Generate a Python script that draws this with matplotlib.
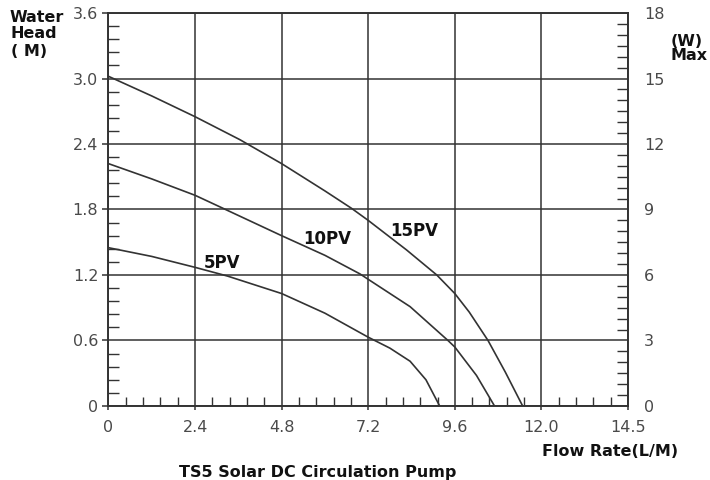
import matplotlib
matplotlib.use("Agg")
import matplotlib.pyplot as plt
from matplotlib.ticker import MultipleLocator, FixedLocator

# Data
flow_15 = [0, 1.2, 2.4, 3.64, 4.8, 6.0, 6.74, 7.2, 8.26, 9.1, 9.6, 10.0, 10.52, 11.0, 11.48]
head_15 = [3.02, 2.84, 2.65, 2.44, 2.22, 1.97, 1.81, 1.70, 1.43, 1.20, 1.03, 0.86, 0.60, 0.31, 0.0]

flow_10 = [0, 1.2, 2.4, 3.18, 4.8, 6.0, 6.97, 7.2, 8.36, 9.41, 9.6, 10.2, 10.7]
head_10 = [2.22, 2.08, 1.93, 1.81, 1.56, 1.38, 1.21, 1.16, 0.91, 0.60, 0.54, 0.28, 0.0]

flow_5 = [0, 1.2, 2.4, 3.3, 4.8, 6.0, 7.2, 7.8, 8.36, 8.8, 9.18]
head_5 = [1.45, 1.37, 1.27, 1.19, 1.03, 0.85, 0.63, 0.53, 0.41, 0.24, 0.0]

curve_labels = ["15PV", "10PV", "5PV"]
label_pos = [(7.80, 1.60), (5.39, 1.53), (2.65, 1.31)]

x_ticks = [0, 2.4, 4.8, 7.2, 9.6, 12.0, 14.4]
x_ticklabels = ["0", "2.4", "4.8", "7.2", "9.6", "12.0", "14.5"]
y_ticks = [0, 0.6, 1.2, 1.8, 2.4, 3.0, 3.6]
y_ticklabels = ["0", "0.6", "1.2", "1.8", "2.4", "3.0", "3.6"]
w_ticks = [0, 3, 6, 9, 12, 15, 18]
w_ticklabels = ["0", "3", "6", "9", "12", "15", "18"]

dark = "#333333"
tick_col = "#4a4a4a"

fig = plt.figure(figsize=(7.1, 4.8), dpi=100)
ax = fig.add_axes([0.1528, 0.1542, 0.8845 - 0.1528, 0.9729 - 0.1542])
ax.set_xlim(0, 14.4)
ax.set_ylim(0, 3.6)

for sp in ax.spines.values():
    sp.set_color(dark)
    sp.set_linewidth(1.2)

# grid
ax.xaxis.set_major_locator(FixedLocator(x_ticks))
ax.set_xticklabels(x_ticklabels)
ax.yaxis.set_major_locator(FixedLocator(y_ticks))
ax.set_yticklabels(y_ticklabels)
ax.xaxis.set_minor_locator(MultipleLocator(0.48))
ax.yaxis.set_minor_locator(MultipleLocator(0.12))
ax.grid(True, which="major", color=dark, linewidth=1.1)

ax.tick_params(axis="x", which="major", direction="out", length=3, width=1.1,
               color=dark, pad=7, labelsize=11.5, labelcolor=tick_col)
ax.tick_params(axis="x", which="minor", direction="in", length=6.5, width=1.0,
               color=dark, top=False)
ax.tick_params(axis="y", which="major", direction="out", length=4.3, width=1.1,
               color=dark, pad=3, labelsize=11.5, labelcolor=tick_col, right=False)
ax.tick_params(axis="y", which="minor", direction="in", length=8, width=1.0,
               color=dark, right=False)

# curves
for fx, hy in [(flow_15, head_15), (flow_10, head_10), (flow_5, head_5)]:
    ax.plot(fx, hy, color=dark, linewidth=1.2, solid_joinstyle="round", zorder=3)

for lab, (lx, ly) in zip(curve_labels, label_pos):
    ax.text(lx, ly, lab, fontsize=12, fontweight="bold", family="DejaVu Sans",
            color="#111111", ha="left", va="center")

# right axis
ax2 = ax.twinx()
ax2.set_ylim(0, 18)
ax2.yaxis.set_major_locator(FixedLocator(w_ticks))
ax2.set_yticklabels(w_ticklabels)
ax2.yaxis.set_minor_locator(MultipleLocator(0.5))
ax2.tick_params(axis="y", which="major", length=0, pad=11.5, labelsize=11.5,
                labelcolor=tick_col)
ax2.tick_params(axis="y", which="minor", direction="in", length=8, width=1.0,
                color=dark)
for sp in ax2.spines.values():
    sp.set_color(dark)
    sp.set_linewidth(1.2)

# annotations
bold = dict(fontweight="bold", family="DejaVu Sans", color="#111111")
fig.text(10 / 710, 1 - 17 / 480, "Water", fontsize=11.5, ha="left", va="center", **bold)
fig.text(10 / 710, 1 - 34 / 480, "Head", fontsize=11.5, ha="left", va="center", **bold)
fig.text(11 / 710, 1 - 51 / 480, "( M)", fontsize=11.5, ha="left", va="center", **bold)
fig.text(671 / 710, 1 - 41 / 480, "(W)", fontsize=11.5, ha="left", va="center", **bold)
fig.text(671 / 710, 1 - 56 / 480, "Max", fontsize=11.5, ha="left", va="center", **bold)
fig.text(610.5 / 710, 1 - 451 / 480, "Flow Rate(L/M)", fontsize=11.5, ha="center",
         va="center", **bold)
fig.text(317.5 / 710, 1 - 472 / 480, "TS5 Solar DC Circulation Pump", fontsize=11.5,
         ha="center", va="center", **bold)

fig.savefig("out.png", dpi=100, facecolor="white")
